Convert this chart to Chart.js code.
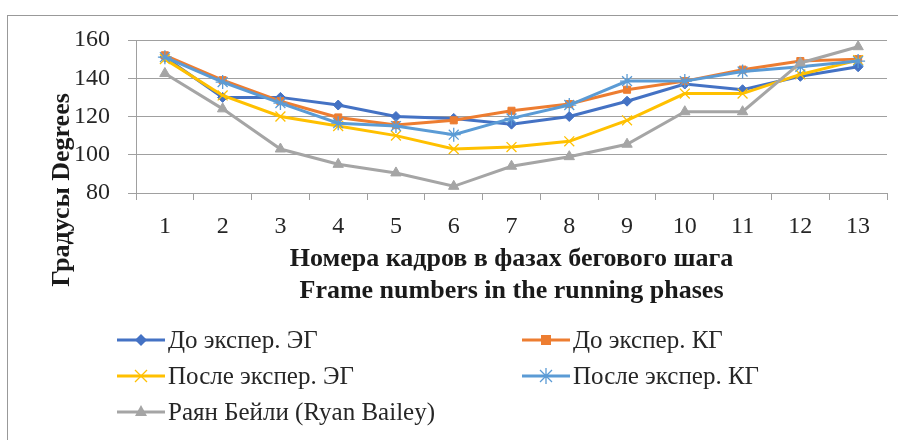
<!DOCTYPE html>
<html>
<head>
<meta charset="utf-8">
<script src="https://cdn.jsdelivr.net/npm/chart.js@4"></script>
<style>
  body { margin: 0; background: #fff; overflow: hidden; }
  #wrap { position: relative; width: 898px; height: 440px; overflow: hidden; }
  #frame { position: absolute; left: 7px; top: 15px; width: 1000px; height: 1000px; border: 1px solid #999; }
  #mychart { position: absolute; left: 0; top: 0; }
  .lg { position: absolute; height: 36px; display: flex; align-items: center;
        font-family: "Liberation Serif", serif; font-size: 25px; color: #262626; white-space: nowrap; }
  .lg svg { margin-right: 3px; }
</style>
</head>
<body>
<div id="wrap">
  <div id="frame"></div>
  <canvas id="mychart" width="898" height="440"></canvas>
  <div id="legend"></div>
</div>
<script>
// frame numbers on the x axis
const frames = ["1", "2", "3", "4", "5", "6", "7", "8", "9", "10", "11", "12", "13"];

// angles in degrees
const egBefore = [151, 130, 130, 126, 120, 119, 116, 120, 128, 137, 134, 141, 146];
const kgBefore = [152, 139, 128, 119.5, 115.5, 118, 123, 126.5, 134, 138.5, 144.5, 149, 150];
const egAfter = [150, 131, 120, 115, 110, 103, 104, 107, 118, 132, 132, 142, 149.5];
const kgAfter = [151, 138, 127, 116.5, 115, 110.5, 119, 126, 138.5, 138.5, 143.5, 146, 149];
const ryanBailey = [142.5, 124, 103, 95, 90.5, 83.5, 94, 99, 105.5, 122.5, 122.5, 148, 156.5];

const seriesNames = ["До экспер. ЭГ", "До экспер. КГ", "После экспер. ЭГ", "После экспер. КГ", "Раян Бейли (Ryan Bailey)"];
const seriesData = [egBefore, kgBefore, egAfter, kgAfter, ryanBailey];
const colors = ["#4472C4", "#ED7D31", "#FFC000", "#5B9BD5", "#A5A5A5"];
const markers = ["rectRot", "rect", "crossRot", "star", "triangle"];

const yTicks = [80, 100, 120, 140, 160];

const datasets = seriesData.map((d, i) => ({
  label: seriesNames[i],
  data: d,
  borderColor: colors[i],
  backgroundColor: colors[i],
  borderWidth: 3,
  tension: 0,
  pointStyle: markers[i],
  pointRadius: markers[i] == "rect" ? 5 : (markers[i] == "rectRot" ? 5 : (markers[i] == "triangle" ? 6 : 7)),
  pointBorderWidth: (markers[i] == "crossRot" || markers[i] == "star") ? 1.3 : 1,
  pointBorderColor: colors[i],
  pointBackgroundColor: colors[i],
  order: 5 - i,
}));

// y axis title sits lower than chart.js would put it, so draw it here
const yTitle = {
  id: "yTitle",
  afterDraw(chart) {
    const ctx = chart.ctx;
    ctx.save();
    ctx.translate(62, 190);
    ctx.rotate(-Math.PI / 2);
    ctx.font = 'bold 26px "Liberation Serif"';
    ctx.fillStyle = "#1a1a1a";
    ctx.textAlign = "center";
    ctx.textBaseline = "middle";
    ctx.fillText("Градусы Degrees", 0, 0);
    ctx.restore();
  },
};

const config = {
  type: "line",
  data: { labels: frames, datasets: datasets },
  options: {
    responsive: false,
    animation: false,
    layout: { padding: { top: 40, right: 11, left: 0, bottom: 0 } },
    plugins: { legend: { display: false }, tooltip: { enabled: false } },
    scales: {
      x: {
        offset: true,
        afterFit: (scale) => { scale.height = 247; },
        grid: { offset: true, drawOnChartArea: false, drawTicks: true, tickLength: 7, color: "#a0a0a0" },
        border: { display: true, color: "#a0a0a0", width: 1 },
        ticks: { padding: 12, color: "#262626", font: { family: "Liberation Serif", size: 24 } },
        title: {
          display: true,
          text: ["Номера кадров в фазах бегового шага", "Frame numbers in the running phases"],
          color: "#1a1a1a",
          font: { family: "Liberation Serif", size: 26, weight: "bold", lineHeight: 1.23 },
          padding: { top: 0, bottom: 133 },
        },
      },
      y: {
        min: yTicks[0],
        max: yTicks[yTicks.length - 1],
        afterFit: (scale) => { scale.width = 136; },
        afterBuildTicks: (scale) => { scale.ticks = yTicks.map((v) => ({ value: v })); },
        grid: { color: "#a0a0a0", tickLength: 8, lineWidth: 1 },
        border: { display: true, color: "#a0a0a0", width: 1 },
        ticks: { padding: 18, color: "#262626", font: { family: "Liberation Serif", size: 24 } },
      },
    },
  },
  plugins: [yTitle],
};

const mychart = new Chart(document.getElementById("mychart"), config);

// legend, two columns like the original
function markerSvg(style, color) {
  let m = "";
  if (style == "rectRot") m = `<polygon points="24,4 30,10 24,16 18,10" fill="${color}"/>`;
  else if (style == "rect") m = `<rect x="19" y="5" width="10" height="10" fill="${color}"/>`;
  else if (style == "crossRot") m = `<path d="M18,4 L30,16 M30,4 L18,16" stroke="${color}" stroke-width="1.3"/>`;
  else if (style == "star") m = `<path d="M18,4 L30,16 M30,4 L18,16 M24,2 L24,18 M17,10 L31,10" stroke="${color}" stroke-width="1.3"/>`;
  else if (style == "triangle") m = `<polygon points="24,3 30,14 18,14" fill="${color}"/>`;
  return `<svg width="48" height="20"><line x1="0" y1="10" x2="48" y2="10" stroke="${color}" stroke-width="3"/>${m}</svg>`;
}

const legendCols = [117, 522];
const legendRows = [322, 358, 394];
const legendBox = document.getElementById("legend");
for (let i = 0; i < seriesNames.length; i++) {
  const col = i % 2;
  const row = Math.floor(i / 2);
  legendBox.innerHTML += `<div class="lg" style="left:${legendCols[col]}px;top:${legendRows[row]}px">${markerSvg(markers[i], colors[i])}<span>${seriesNames[i]}</span></div>`;
}
</script>
</body>
</html>
